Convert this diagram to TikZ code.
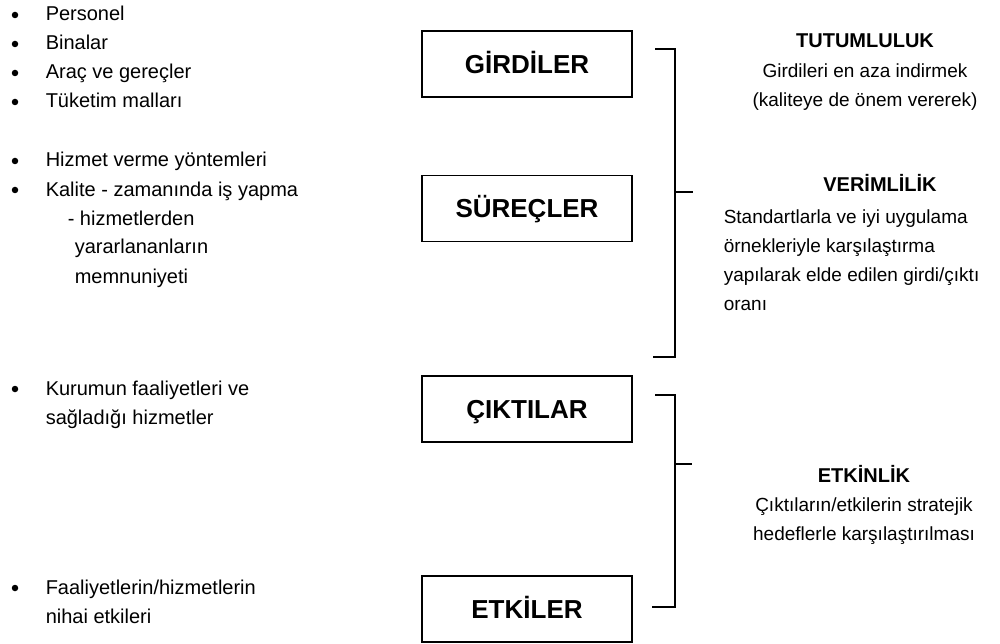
\documentclass[tikz,border=0pt]{standalone}
\usepackage{fontspec}
\setmainfont{Liberation Sans}
\definecolor{ink}{RGB}{0,0,0}
\tikzset{
  every picture/.style={color=ink, line width=1.5pt},
  stage/.style={draw=ink, line width=1.5pt, minimum width=210pt, minimum height=66pt, inner sep=0pt,
    text height=18.6pt, text depth=0pt, font=\fontsize{26}{30}\selectfont\bfseries},
  item/.style={anchor=base west, inner sep=0pt, align=left, font=\fontsize{20}{29}\selectfont},
  dot/.style={circle, fill=ink, inner sep=0pt, minimum size=6.5pt},
  head/.style={anchor=base, inner sep=0pt, font=\fontsize{20}{29}\selectfont\bfseries},
  note/.style={inner sep=0pt, align=center, font=\fontsize{19}{29}\selectfont},
  brace/.style={line width=1.5pt},
}

\begin{document}
\begin{tikzpicture}[x=1pt, y=-1pt]
  \useasboundingbox (0,0) rectangle (1000,644);

  % left column (a multi-line node sits on its last baseline)
  \node[dot] (d1) at (15,15) {};
  \node[item] (personel) at (45,21) {Personel};
  \node[dot] (d2) at (15,44) {};
  \node[item] (bina) at (45,50) {Binalar};
  \node[dot] (d3) at (15,73) {};
  \node[item] (arac) at (45,79) {Araç ve gereçler};
  \node[dot] (d4) at (15,102) {};
  \node[item] (tuketim) at (45,108) {Tüketim malları};

  \node[dot] (d5) at (15,161) {};
  \node[item] (yontem) at (45,167) {Hizmet verme yöntemleri};
  \node[dot] (d6) at (15,190) {};
  \node[item] (kalite) at (45,283) {Kalite - zamanında iş yapma\\\hspace*{22pt}- hizmetlerden\\\hspace*{29pt}yararlananların\\\hspace*{29pt}memnuniyeti};

  \node[dot] (d7) at (15,389) {};
  \node[item] (faal) at (45,424) {Kurumun faaliyetleri ve\\sağladığı hizmetler};

  \node[dot] (d8) at (15,588) {};
  \node[item] (nihai) at (45,623) {Faaliyetlerin/hizmetlerin\\nihai etkileri};

  % boxes
  \node[stage] (girdi) at (527,64) {GİRDİLER};
  \node[stage] (surec) at (527,208.5) {SÜREÇLER};
  \node[stage] (cikti) at (527,409) {ÇIKTILAR};
  \node[stage] (etki) at (527,609) {ETKİLER};

  % brackets
  \coordinate (b1top) at (655,49);
  \coordinate (b1bot) at (653,357);
  \coordinate (b1mid) at (693,192);
  \draw[brace] (b1top) -- (675,49) -- (675,357) -- (b1bot);
  \draw[brace] (675,192) -- (b1mid);

  \coordinate (b2top) at (655,395);
  \coordinate (b2bot) at (652,607);
  \coordinate (b2mid) at (692,464);
  \draw[brace] (b2top) -- (675,395) -- (675,607) -- (b2bot);
  \draw[brace] (675,464) -- (b2mid);

  % right column
  \node[head] (tutum) at (865,48) {TUTUMLULUK};
  \node[note, anchor=base] (tutumtxt) at ([yshift=-59pt]tutum.base) {Girdileri en aza indirmek\\(kaliteye de önem vererek)};

  \node[head] (verim) at (880,192) {VERİMLİLİK};
  \node[note, align=left, anchor=base west] (verimtxt) at (723,310) {Standartlarla ve iyi uygulama\\örnekleriyle karşılaştırma\\yapılarak elde edilen girdi/çıktı\\oranı};

  \node[head] (etkin) at (864,482) {ETKİNLİK};
  \node[note, anchor=base] (etkintxt) at ([yshift=-58pt]etkin.base) {Çıktıların/etkilerin stratejik\\hedeflerle karşılaştırılması};
\end{tikzpicture}
\end{document}
